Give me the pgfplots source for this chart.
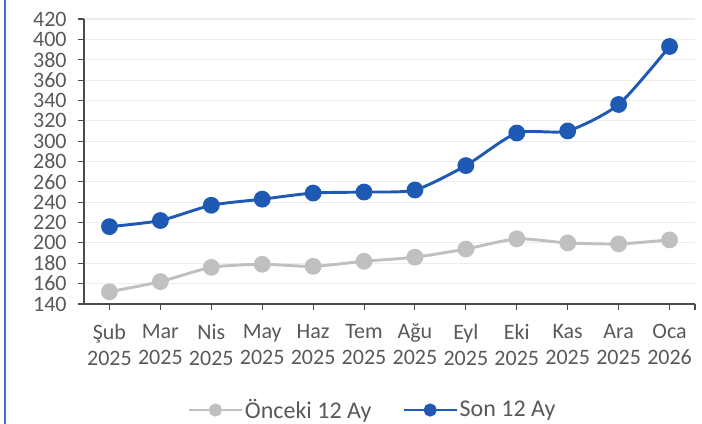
\documentclass[border=0pt]{standalone}
\usepackage{fontspec}
\setmainfont{Carlito}
\usepackage{pgfplots}
\pgfplotsset{compat=1.18}
\definecolor{sonblue}{RGB}{30,90,180}
\definecolor{oncgray}{RGB}{192,192,192}
\definecolor{txtgray}{RGB}{89,89,89}
\definecolor{framblue}{RGB}{68,114,196}
\begin{document}
\begin{tikzpicture}
\useasboundingbox (0,0) rectangle (526.5pt,318pt);
\draw[color=framblue, line width=1.5pt] (3.75pt,0) -- (3.75pt,318pt);
\begin{axis}[
 scale only axis, width=458.25pt, height=213.75pt, at={(63pt,90pt)}, anchor=south west,
 xmin=-0.5, xmax=11.5, ymin=140, ymax=420,
 ytick={140,160,...,420},
 xtick={0,...,11},
 xticklabels={Şub\\2025,Mar\\2025,Nis\\2025,May\\2025,Haz\\2025,Tem\\2025,Ağu\\2025,Eyl\\2025,Eki\\2025,Kas\\2025,Ara\\2025,Oca\\2026},
 extra x ticks={11.5}, extra x tick labels={},
 extra x tick style={grid=none},
 axis x line*=bottom, axis y line*=left,
 axis line style={-, color=black!70, line width=0.8pt},
 tick style={color=black!70, line width=0.8pt},
 tick align=outside, major tick length=4.5pt,
 ymajorgrids, grid style={color=black!7, line width=0.8pt},
 tick label style={font=\fontsize{16.5}{19.5}\selectfont, text=txtgray},
 xticklabel style={align=center, yshift=-7pt},
 yticklabel style={xshift=-5pt},
 /pgf/number format/assume math mode=true,
 legend style={at={(0.4714,-0.372)}, anchor=center, draw=none, fill=none,
   font=\fontsize{18}{21}\selectfont, text=txtgray, legend columns=2,
   nodes={inner xsep=1pt},
   /tikz/every even column/.append style={column sep=22pt}},
 legend image code/.code={\draw[#1, mark size=3.8pt, mark repeat=2, mark phase=2] plot coordinates {(0pt,0pt) (20pt,0pt) (40pt,0pt)};},
]
\addplot[color=oncgray, line width=2.2pt, smooth, tension=0.4, mark=*, mark size=5.2pt, mark options={fill=oncgray, draw=oncgray}]
 coordinates {(0,152) (1,162) (2,176) (3,179) (4,177) (5,182) (6,186) (7,194) (8,204) (9,200) (10,199) (11,203)};
\addlegendentry{Önceki 12 Ay}
\addplot[color=sonblue, line width=2.2pt, smooth, tension=0.4, mark=*, mark size=5.2pt, mark options={fill=sonblue, draw=sonblue}]
 coordinates {(0,216) (1,222) (2,237) (3,243) (4,249) (5,250) (6,252) (7,276) (8,308) (9,310) (10,336) (11,393)};
\addlegendentry{Son 12 Ay}
\end{axis}
\end{tikzpicture}
\end{document}
